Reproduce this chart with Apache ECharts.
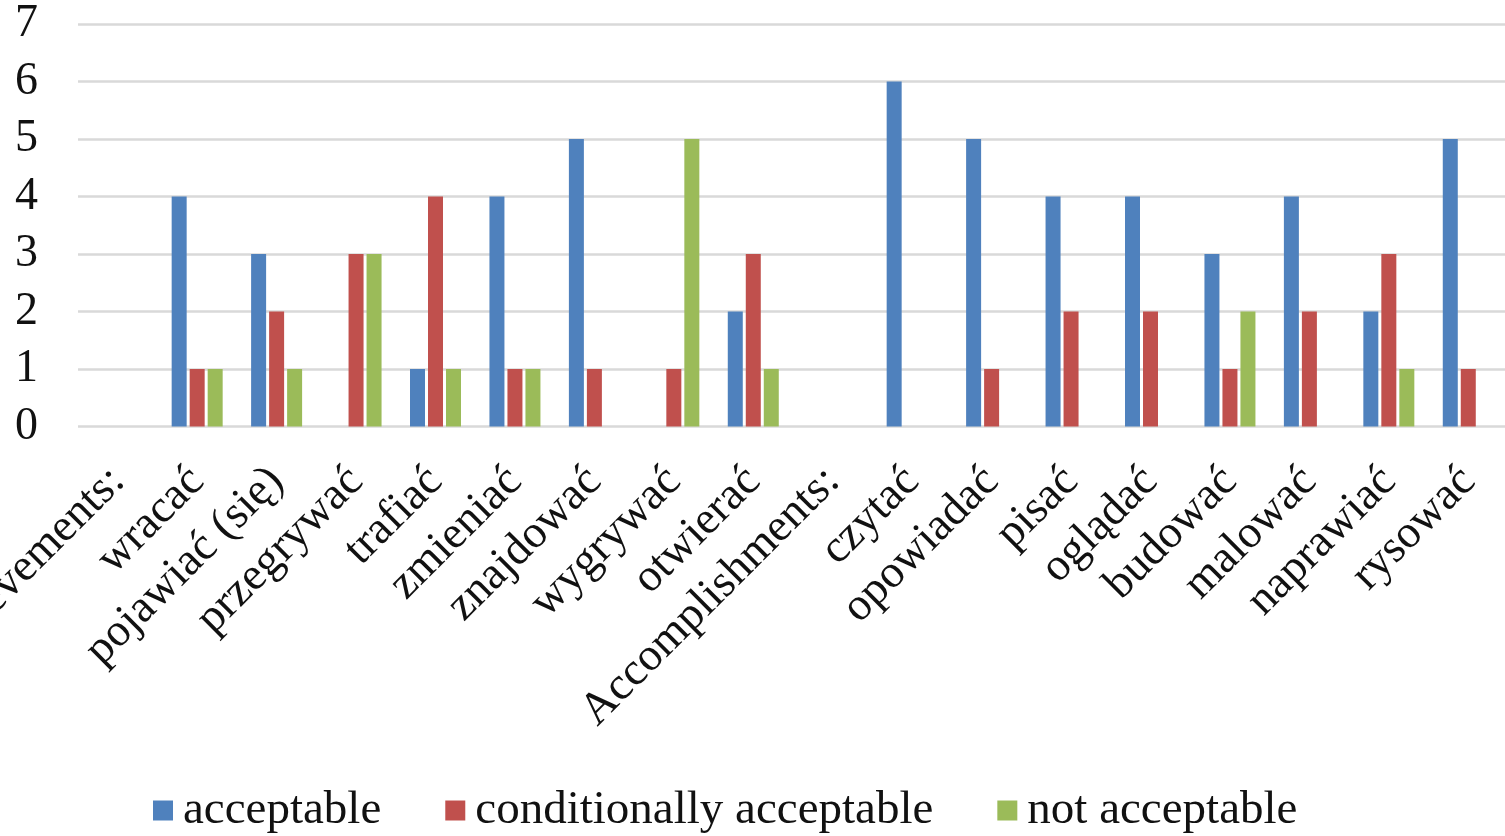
<!DOCTYPE html>
<html>
<head>
<meta charset="utf-8">
<title>Verb acceptability</title>
<script src="https://cdn.jsdelivr.net/npm/echarts@6/dist/echarts.min.js"></script>
<style>
  html, body { margin: 0; padding: 0; background: #ffffff; }
  #chart { width: 1505px; height: 836px; }
</style>
</head>
<body>
<div id="chart"></div>
<script>
// Verbs grouped under two headings; heading rows carry no bars.
const categories = [
  'Achievements:', 'wracać', 'pojawiać (się)', 'przegrywać', 'trafiać',
  'zmieniać', 'znajdować', 'wygrywać', 'otwierać', 'Accomplishments:',
  'czytać', 'opowiadać', 'pisać', 'oglądać', 'budować', 'malować',
  'naprawiać', 'rysować'
];
const acceptable              = [0, 4, 3, 0, 1, 4, 5, 0, 2, 0, 6, 5, 4, 4, 3, 4, 2, 5];
const conditionallyAcceptable = [0, 1, 2, 3, 4, 1, 1, 1, 3, 0, 0, 1, 2, 2, 1, 2, 3, 1];
const notAcceptable           = [0, 1, 1, 3, 1, 1, 0, 5, 1, 0, 0, 0, 0, 0, 2, 0, 1, 0];
const seriesNames = ['acceptable', 'conditionally acceptable', 'not acceptable'];
const yTicks = { min: 0, max: 7, interval: 1 };

const FONT = '"Liberation Serif", "Times New Roman", serif';
const colors = ['#4F81BD', '#C0504D', '#9BBB59'];

const chart = echarts.init(document.getElementById('chart'), null, { renderer: 'canvas' });

function barSeries(name, data, color) {
  return {
    name: name,
    type: 'bar',
    data: data,
    barWidth: 15,
    barGap: '20%',
    itemStyle: { color: color },
    emphasis: { disabled: true }
  };
}

chart.setOption({
  animation: false,
  color: colors,
  grid: {
    left: 78, right: -3, top: 24, bottom: 409.5,
    containLabel: false,
    outerBoundsMode: 'none'
  },
  xAxis: {
    type: 'category',
    data: categories,
    axisLine: { show: false },
    axisTick: { show: false },
    axisLabel: {
      interval: 0,
      rotate: 45,
      margin: 48,
      fontFamily: FONT,
      fontSize: 46,
      color: '#111111'
    }
  },
  yAxis: {
    type: 'value',
    min: yTicks.min,
    max: yTicks.max,
    interval: yTicks.interval,
    axisLine: { show: false },
    axisTick: { show: false },
    splitLine: { lineStyle: { color: '#d9d9d9', width: 2.5 } },
    axisLabel: {
      margin: 40,
      fontFamily: FONT,
      fontSize: 46,
      color: '#111111'
    }
  },
  legend: {
    left: 148,
    top: 782,
    itemWidth: 20,
    itemHeight: 20,
    itemGap: 64,
    icon: 'rect',
    textStyle: {
      fontFamily: FONT,
      fontSize: 47,
      color: '#111111',
      padding: [0, 0, 0, 5]
    },
    data: seriesNames
  },
  series: [
    barSeries(seriesNames[0], acceptable, colors[0]),
    barSeries(seriesNames[1], conditionallyAcceptable, colors[1]),
    barSeries(seriesNames[2], notAcceptable, colors[2])
  ]
});
</script>
</body>
</html>
